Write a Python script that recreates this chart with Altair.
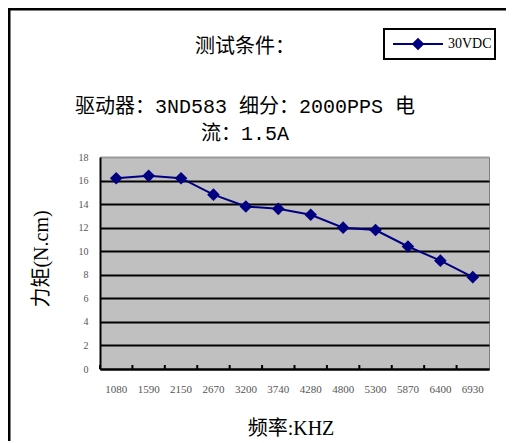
import altair as alt
import pandas as pd

# ---- data ----
freq = ["1080", "1590", "2150", "2670", "3200", "3740", "4280", "4800", "5300", "5870", "6400", "6930"]
torque = [16.2, 16.4, 16.2, 14.8, 13.8, 13.6, 13.1, 12.0, 11.8, 10.4, 9.2, 7.8]
y_ticks = [0, 2, 4, 6, 8, 10, 12, 14, 16, 18]
series_name = "30VDC"
title_line = ["测试条件："]
sub_line1 = ["驱动器：3ND583 细分：2000PPS 电"]
sub_line2 = ["流：1.5A"]
y_title = ["力矩(N.cm)"]
x_title = ["频率:KHZ"]

df = pd.DataFrame({"freq": freq, "torque": torque, "series": series_name})

W, H = 389, 212
NAVY = "#000080"
SERIF = "Liberation Serif, Noto Sans CJK SC"
MONO = "Liberation Mono, Noto Sans CJK SC"

band = alt.Scale(type="band", paddingInner=0, paddingOuter=0, domain=freq)
yscale = alt.Scale(domain=[0, 18], nice=False)

x_axis = alt.Axis(title=None, labelAngle=0, labelFont="Liberation Serif",
                  labelFontSize=11, labelColor="#555555", labelPadding=14,
                  labelOverlap=False, ticks=False, domainColor="black", domainWidth=2)
y_axis = alt.Axis(title=None, values=y_ticks, labelFont="Liberation Serif",
                  labelFontSize=10, labelColor="#555555", labelPadding=12,
                  labelOverlap=False, ticks=False, domainColor="black", domainWidth=2,
                  grid=True, gridWidth=2,
                  gridColor=alt.condition("datum.value >= 18", alt.value("#999999"), alt.value("black")))

base = alt.Chart(df)

line = base.mark_line(color=NAVY, strokeWidth=2).encode(
    x=alt.X("freq:N", scale=band, bandPosition=0.5, axis=x_axis),
    y=alt.Y("torque:Q", scale=yscale, axis=y_axis),
)

points = base.mark_point(shape="diamond", filled=True, size=160, color=NAVY, opacity=1).encode(
    x=alt.X("freq:N", scale=band, bandPosition=0.5, axis=x_axis),
    y=alt.Y("torque:Q", scale=yscale, axis=y_axis),
)

ticks = base.mark_rule(color="black", strokeWidth=2).encode(
    x=alt.X("freq:N", scale=band, bandPosition=0, axis=x_axis),
    y=alt.value(H - 4),
    y2=alt.value(H),
)


def txt(lines, x, y, size, font=SERIF, angle=0):
    return alt.Chart(pd.DataFrame({"t": lines})).mark_text(
        font=font, fontSize=size, color="black", align="center", baseline="middle",
        angle=angle
    ).encode(text="t:N", x=alt.value(x), y=alt.value(y))


t1 = txt(title_line, 145, -110, 20)
t2 = txt(sub_line1, 145, -50, 20, font=MONO)
t3 = txt(sub_line2, 145, -23, 20, font=MONO)
ty = txt(y_title, -58, 102, 20, angle=270)
tx = txt(x_title, 191, 272, 20)

# legend
leg_df = pd.DataFrame({"series": [series_name]})
leg_box = alt.Chart(leg_df).mark_rect(fill="white", stroke="black", strokeWidth=2).encode(
    x=alt.value(284), x2=alt.value(395), y=alt.value(-128), y2=alt.value(-98)
)
leg_line = alt.Chart(leg_df).mark_rule(color=NAVY, strokeWidth=2).encode(
    x=alt.value(293), x2=alt.value(343), y=alt.value(-113)
)
leg_pt = alt.Chart(leg_df).mark_point(shape="diamond", filled=True, size=160, color=NAVY, opacity=1).encode(
    x=alt.value(318), y=alt.value(-113)
)
leg_txt = alt.Chart(leg_df).mark_text(font="Liberation Serif", fontSize=14, align="left",
                                      baseline="middle", color="black").encode(
    text="series:N", x=alt.value(348), y=alt.value(-113)
)

# outer frame
frame_left = alt.Chart(leg_df).mark_rule(color="black", strokeWidth=3).encode(
    x=alt.value(-91), y=alt.value(-149), y2=alt.value(H + 90)
)
frame_top = alt.Chart(leg_df).mark_rule(color="black", strokeWidth=3).encode(
    x=alt.value(-92), x2=alt.value(W + 40), y=alt.value(-148)
)

chart = alt.layer(
    line, points, ticks, t1, t2, t3, ty, tx,
    leg_box, leg_line, leg_pt, leg_txt, frame_left, frame_top
).properties(
    width=W, height=H,
    autosize=alt.AutoSizeParams(type="none"),
    padding={"left": 92, "top": 149, "right": 17, "bottom": 72},
    background="white",
).configure_view(fill="#C0C0C0", stroke="#808080", strokeWidth=1)

chart.save("out.html", embed_options={"renderer": "svg", "actions": False})
